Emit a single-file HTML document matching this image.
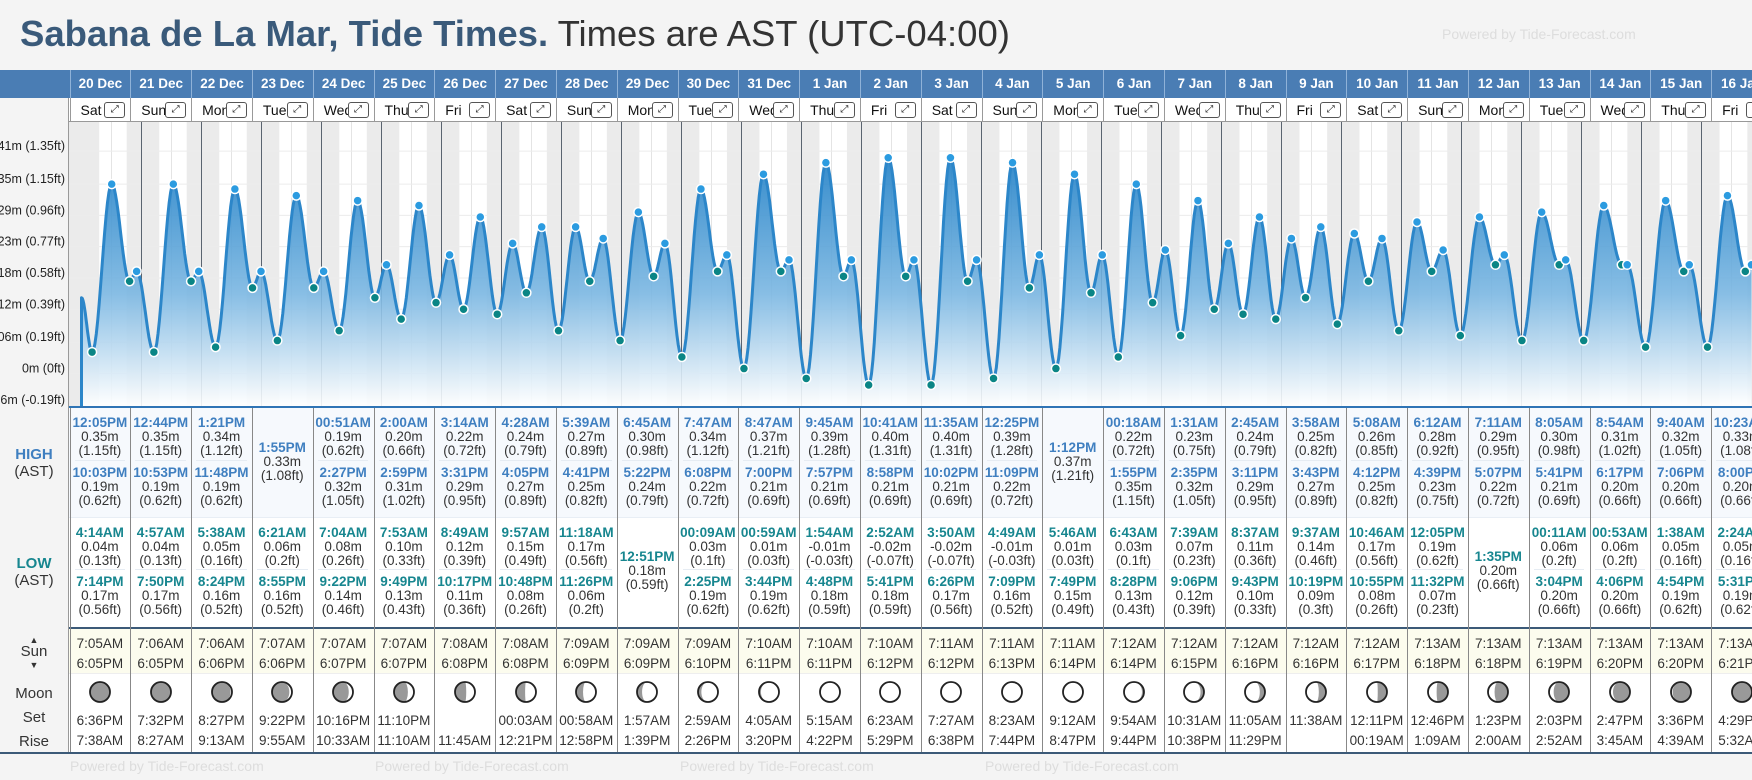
<!DOCTYPE html>
<html><head><meta charset="utf-8">
<style>
*{box-sizing:border-box;margin:0;padding:0}
body{width:1752px;height:780px;overflow:hidden;background:#f4f4f4;font-family:"Liberation Sans",sans-serif;position:relative}
.a{position:absolute}
.c{position:absolute;text-align:center;white-space:nowrap;font-size:13.5px;color:#333;line-height:14px}
.ht{color:#3f7fc0;font-weight:bold}
.lt{color:#17868f;font-weight:bold}
</style></head><body>
<div class="a" style="left:20px;top:12px;font-size:36.5px;line-height:44px;white-space:nowrap;color:#333"><b style="color:#3a5a7a">Sabana de La Mar, Tide Times.</b> Times are AST (UTC-04:00)</div>
<div class="a" style="left:1442px;top:26px;font-size:14px;color:#ddd;white-space:nowrap">Powered by Tide-Forecast.com</div>
<div id="root"></div>
<script>
const dates=["20 Dec","21 Dec","22 Dec","23 Dec","24 Dec","25 Dec","26 Dec","27 Dec","28 Dec","29 Dec","30 Dec","31 Dec","1 Jan","2 Jan","3 Jan","4 Jan","5 Jan","6 Jan","7 Jan","8 Jan","9 Jan","10 Jan","11 Jan","12 Jan","13 Jan","14 Jan","15 Jan","16 Jan"];
const days=["Sat","Sun","Mon","Tue","Wed","Thu","Fri","Sat","Sun","Mon","Tue","Wed","Thu","Fri","Sat","Sun","Mon","Tue","Wed","Thu","Fri","Sat","Sun","Mon","Tue","Wed","Thu","Fri"];
const highs=[
[["12:05PM",0.35,1.15],["10:03PM",0.19,0.62]],
[["12:44PM",0.35,1.15],["10:53PM",0.19,0.62]],
[["1:21PM",0.34,1.12],["11:48PM",0.19,0.62]],
[["1:55PM",0.33,1.08]],
[["00:51AM",0.19,0.62],["2:27PM",0.32,1.05]],
[["2:00AM",0.20,0.66],["2:59PM",0.31,1.02]],
[["3:14AM",0.22,0.72],["3:31PM",0.29,0.95]],
[["4:28AM",0.24,0.79],["4:05PM",0.27,0.89]],
[["5:39AM",0.27,0.89],["4:41PM",0.25,0.82]],
[["6:45AM",0.30,0.98],["5:22PM",0.24,0.79]],
[["7:47AM",0.34,1.12],["6:08PM",0.22,0.72]],
[["8:47AM",0.37,1.21],["7:00PM",0.21,0.69]],
[["9:45AM",0.39,1.28],["7:57PM",0.21,0.69]],
[["10:41AM",0.40,1.31],["8:58PM",0.21,0.69]],
[["11:35AM",0.40,1.31],["10:02PM",0.21,0.69]],
[["12:25PM",0.39,1.28],["11:09PM",0.22,0.72]],
[["1:12PM",0.37,1.21]],
[["00:18AM",0.22,0.72],["1:55PM",0.35,1.15]],
[["1:31AM",0.23,0.75],["2:35PM",0.32,1.05]],
[["2:45AM",0.24,0.79],["3:11PM",0.29,0.95]],
[["3:58AM",0.25,0.82],["3:43PM",0.27,0.89]],
[["5:08AM",0.26,0.85],["4:12PM",0.25,0.82]],
[["6:12AM",0.28,0.92],["4:39PM",0.23,0.75]],
[["7:11AM",0.29,0.95],["5:07PM",0.22,0.72]],
[["8:05AM",0.30,0.98],["5:41PM",0.21,0.69]],
[["8:54AM",0.31,1.02],["6:17PM",0.20,0.66]],
[["9:40AM",0.32,1.05],["7:06PM",0.20,0.66]],
[["10:23AM",0.33,1.08],["8:00PM",0.20,0.66]]];
const lows=[
[["4:14AM",0.04,0.13],["7:14PM",0.17,0.56]],
[["4:57AM",0.04,0.13],["7:50PM",0.17,0.56]],
[["5:38AM",0.05,0.16],["8:24PM",0.16,0.52]],
[["6:21AM",0.06,0.2],["8:55PM",0.16,0.52]],
[["7:04AM",0.08,0.26],["9:22PM",0.14,0.46]],
[["7:53AM",0.10,0.33],["9:49PM",0.13,0.43]],
[["8:49AM",0.12,0.39],["10:17PM",0.11,0.36]],
[["9:57AM",0.15,0.49],["10:48PM",0.08,0.26]],
[["11:18AM",0.17,0.56],["11:26PM",0.06,0.2]],
[["12:51PM",0.18,0.59]],
[["00:09AM",0.03,0.1],["2:25PM",0.19,0.62]],
[["00:59AM",0.01,0.03],["3:44PM",0.19,0.62]],
[["1:54AM",-0.01,-0.03],["4:48PM",0.18,0.59]],
[["2:52AM",-0.02,-0.07],["5:41PM",0.18,0.59]],
[["3:50AM",-0.02,-0.07],["6:26PM",0.17,0.56]],
[["4:49AM",-0.01,-0.03],["7:09PM",0.16,0.52]],
[["5:46AM",0.01,0.03],["7:49PM",0.15,0.49]],
[["6:43AM",0.03,0.1],["8:28PM",0.13,0.43]],
[["7:39AM",0.07,0.23],["9:06PM",0.12,0.39]],
[["8:37AM",0.11,0.36],["9:43PM",0.10,0.33]],
[["9:37AM",0.14,0.46],["10:19PM",0.09,0.3]],
[["10:46AM",0.17,0.56],["10:55PM",0.08,0.26]],
[["12:05PM",0.19,0.62],["11:32PM",0.07,0.23]],
[["1:35PM",0.20,0.66]],
[["00:11AM",0.06,0.2],["3:04PM",0.20,0.66]],
[["00:53AM",0.06,0.2],["4:06PM",0.20,0.66]],
[["1:38AM",0.05,0.16],["4:54PM",0.19,0.62]],
[["2:24AM",0.05,0.16],["5:31PM",0.19,0.62]]];
const sunrise=["7:05AM","7:06AM","7:06AM","7:07AM","7:07AM","7:07AM","7:08AM","7:08AM","7:09AM","7:09AM","7:09AM","7:10AM","7:10AM","7:10AM","7:11AM","7:11AM","7:11AM","7:12AM","7:12AM","7:12AM","7:12AM","7:12AM","7:13AM","7:13AM","7:13AM","7:13AM","7:13AM","7:13AM"];
const sunset=["6:05PM","6:05PM","6:06PM","6:06PM","6:07PM","6:07PM","6:08PM","6:08PM","6:09PM","6:09PM","6:10PM","6:11PM","6:11PM","6:12PM","6:12PM","6:13PM","6:14PM","6:14PM","6:15PM","6:16PM","6:16PM","6:17PM","6:18PM","6:18PM","6:19PM","6:20PM","6:20PM","6:21PM"];
const moonSet=["6:36PM","7:32PM","8:27PM","9:22PM","10:16PM","11:10PM","","00:03AM","00:58AM","1:57AM","2:59AM","4:05AM","5:15AM","6:23AM","7:27AM","8:23AM","9:12AM","9:54AM","10:31AM","11:05AM","11:38AM","12:11PM","12:46PM","1:23PM","2:03PM","2:47PM","3:36PM","4:29PM"];
const moonRise=["7:38AM","8:27AM","9:13AM","9:55AM","10:33AM","11:10AM","11:45AM","12:21PM","12:58PM","1:39PM","2:26PM","3:20PM","4:22PM","5:29PM","6:38PM","7:44PM","8:47PM","9:44PM","10:38PM","11:29PM","","00:19AM","1:09AM","2:00AM","2:52AM","3:45AM","4:39AM","5:32AM"];
const moonAge=[0.5,1.5,2.5,3.5,4.5,5.5,6.8,7.8,8.8,9.8,10.8,11.8,12.8,13.8,14.8,15.8,16.8,17.8,18.8,19.8,20.8,21.8,22.8,23.8,24.8,25.8,26.8,27.8];
const startFt=0.46;
const yTicksM=["0.47m","0.41m","0.35m","0.29m","0.23m","0.18m","0.12m","0.06m","0m","-0.06m"];
const yTicksFt=[1.54,1.35,1.15,0.96,0.77,0.58,0.39,0.19,0,-0.19];

const root=document.getElementById('root');
const COL0=69.5,COLW=60.8,CX0=81.5,DAYW=60,CT=122,CB=406;
const xT=t=>CX0+t*DAYW;
const yF=f=>373.5-164.7*f;
function hrs(s){let m=s.match(/(\d+):(\d+)(AM|PM)/);let h=+m[1]%12;if(m[3]=='PM')h+=12;return h+(+m[2])/60;}
function div(cls,style,html,name,inter){const d=document.createElement('div');d.className=cls;d.style.cssText=style;d.innerHTML=html;


root.appendChild(d);return d;}

div('a','left:0;top:70px;width:1752px;height:28px;background:#4a7db4','', 'date-header-bar',false);
div('a','left:0;top:98px;width:1752px;height:24px;background:#fff;border-bottom:1px solid #999','', 'day-header-bar',false);
div('a','left:0;top:98px;width:69px;height:24px;background:#f4f4f4','', 'day-header-spacer',false);
div('a','left:69px;top:408px;width:1683px;height:109px;background:#f6f9fd','', 'high-row-bg',false);
div('a','left:69px;top:517px;width:1683px;height:110px;background:#fff;border-top:1px solid #e8eef5','', 'low-row-bg',false);
div('a','left:0;top:627px;width:1752px;height:46px;background:#fcfcee;border-top:2px solid #3c5a78','', 'sun-row-bg',false);
div('a','left:69px;top:673px;width:1683px;height:79px;background:#fff;border-top:1px solid #eee','', 'moon-row-bg',false);
div('a','left:0;top:752px;width:1752px;height:2px;background:#3c5a78','', 'table-bottom-border',false);
div('a','left:69px;top:406px;width:1683px;height:2px;background:#2f74b5','', 'chart-bottom-border',false);
div('a','left:68px;top:98px;width:1px;height:654px;background:#999','', 'left-divider',false);

for(let i=0;i<dates.length;i++){
 const x=COL0+i*COLW;
 div('c',`left:${x}px;width:${COLW}px;color:#fff;font-weight:bold;font-size:13.5px;border-left:1px solid #8fb2d8;height:28px;top:70px;line-height:28px`,dates[i],'date-label',false);
 div('c',`left:${x}px;top:98px;width:${COLW}px;height:24px;line-height:24px;border-left:1px solid #999;text-align:left;padding-left:${days[i].length>3?6:10}px;font-size:14px;color:#111`,days[i],'day-label',false);
 div('a',`left:${x+COLW-26}px;top:102px;width:21px;height:16px;border:1px solid #555;border-radius:3px;font-size:10px;line-height:14px;text-align:center;color:#222;background:#fff`,'⤢','expand-day-button',true);
 div('a',`left:${x}px;top:408px;width:1px;height:344px;background:#888`,'','column-divider',false);
 const ent=(arr,cls,tops,kind)=>{arr.forEach((e,k)=>{const t=arr.length==1?tops[2]:tops[k];
   div('c',`left:${x}px;top:${t}px;width:${COLW}px`,`<span class="${cls}">${e[0]}</span><br>${e[1].toFixed(2)}m<br>(${e[2]}ft)`,kind,false);});
   if(arr.length==2) div('a',`left:${x+5}px;top:${tops[1]-6}px;width:${COLW-10}px;height:1px;background:#e6ecf3`,'','sub-row-divider',false);};
 ent(highs[i],'ht',[416,466,441],'high-tide-entry');
 ent(lows[i],'lt',[526,575,550],'low-tide-entry');
 div('c',`left:${x}px;top:634px;width:${COLW}px;line-height:20px;font-size:13.5px`,`${sunrise[i]}<br>${sunset[i]}`,'sunrise-sunset',false);
 div('c',`left:${x}px;top:711px;width:${COLW}px;line-height:20px;font-size:13.5px`,`${moonSet[i]||'&nbsp;'}<br>${moonRise[i]||'&nbsp;'}`,'moonset-moonrise',false);
 const ph=moonAge[i]/29.53, cx=x+COLW/2, r=10;
 let k=Math.cos(ph*2*Math.PI);
 const rx=Math.abs(k)*r;
 let lit;
 if(ph<0.5){
   const sweep=k>0?0:1;
   lit=`M0,${-r} A${r},${r} 0 0 1 0,${r} A${rx},${r} 0 0 ${sweep} 0,${-r}Z`;
 } else {
   const sweep=k>0?1:0;
   lit=`M0,${-r} A${r},${r} 0 0 0 0,${r} A${rx},${r} 0 0 ${sweep} 0,${-r}Z`;
 }
 div('a',`left:${cx-13}px;top:679px;width:26px;height:26px`,`<svg width="26" height="26" viewBox="-13 -13 26 26"><circle r="${r}" fill="#999"/><path d="${lit}" fill="#fff"/><circle r="${r}" fill="none" stroke="#222" stroke-width="1.8"/></svg>`,'moon-phase-icon',false);
}
div('a','left:0;top:408px;width:68px;height:344px;background:#f4f4f4','','row-label-bg',false);
div('c','left:0;top:446px;width:68px;font-size:15px;line-height:17px',`<b style="color:#3f7fc0">HIGH</b><br>(AST)`,'high-row-label',false);
div('c','left:0;top:555px;width:68px;font-size:15px;line-height:17px',`<b style="color:#17868f">LOW</b><br>(AST)`,'low-row-label',false);
div('c','left:0;top:633px;width:68px;font-size:15px;line-height:12px',`<span style="font-size:9px">▲</span><br>Sun<br><span style="font-size:9px">▼</span>`,'sun-row-label',false);
div('c','left:0;top:684px;width:68px;font-size:15px;line-height:20px',`Moon<br><span style="line-height:28px">Set</span><br>Rise`,'moon-row-label',false);
for(let j=0;j<4;j++) div('a',`left:${70+j*305}px;top:758px;font-size:14px;color:#ddd;white-space:nowrap`,'Powered by Tide-Forecast.com','powered-by-footer',false);

const NS='http://www.w3.org/2000/svg';
const svg=document.createElementNS(NS,'svg');
svg.setAttribute('width','1752');svg.setAttribute('height','290');
svg.setAttribute('style','position:absolute;left:0;top:122px');


root.appendChild(svg);
function el(tag,attrs,name){const e=document.createElementNS(NS,tag);for(const k in attrs)e.setAttribute(k,attrs[k]);


svg.appendChild(e);return e;}
const oy=CT;
svg.innerHTML='<defs><linearGradient id="g" x1="0" y1="0" x2="0" y2="1"><stop offset="0" stop-color="#1f7fc6"/><stop offset="0.55" stop-color="#7bb7e2"/><stop offset="1" stop-color="#fff"/></linearGradient><clipPath id="cp"><rect x="69" y="0" width="1700" height="284"/></clipPath></defs>';
el('rect',{x:0,y:0,width:68,height:284,fill:'#f4f4f4'},'y-axis-bg');
el('rect',{x:69,y:0,width:1683,height:284,fill:'#fff'},'chart-bg');
const g=el('g',{'clip-path':'url(#cp)'},'plot-area');
function gel(tag,attrs,name){const e=el(tag,attrs,name);g.appendChild(e);return e;}
gel('rect',{x:69,y:0,width:xT(hrs(sunrise[0])/24)-69,height:284,fill:'#ebebeb'},'night-band');
for(let i=0;i<dates.length;i++){
 const s=xT(i+hrs(sunset[i])/24), e=xT(i+1+hrs(sunrise[Math.min(i+1,dates.length-1)])/24);
 gel('rect',{x:s,y:0,width:e-s,height:284,fill:'#ebebeb'},'night-band');
 gel('line',{x1:xT(i+0.5),x2:xT(i+0.5),y1:0,y2:284,stroke:'#e4e4e4','stroke-width':1},'noon-gridline');
}
yTicksFt.forEach(f=>gel('line',{x1:69,x2:1752,y1:yF(f)-oy,y2:yF(f)-oy,stroke:'#ececec','stroke-width':1},'y-gridline'));
for(let i=1;i<=dates.length;i++) gel('line',{x1:xT(i),x2:xT(i),y1:0,y2:284,stroke:'#5a6470','stroke-width':1},'midnight-line');
let ex=[];
for(let i=0;i<dates.length;i++){highs[i].forEach(e=>ex.push({t:i+hrs(e[0])/24,f:e[2],h:1}));lows[i].forEach(e=>ex.push({t:i+hrs(e[0])/24,f:e[2],h:0}));}
ex.sort((a,b)=>a.t-b.t);
const pts=[{t:0,f:startFt}].concat(ex);
let d=`M${xT(0)},${CB-oy} L${xT(0)},${yF(startFt)-oy}`;
let line=d;
for(let k=0;k<pts.length-1;k++){const a=pts[k],b=pts[k+1];
 for(let s=1;s<=14;s++){const u=s/14;const tt=a.t+(b.t-a.t)*u;const ff=a.f+(b.f-a.f)*(1-Math.cos(Math.PI*u))/2;
  const seg=` L${xT(tt).toFixed(1)},${(yF(ff)-oy).toFixed(1)}`;d+=seg;line+=seg;}}
d+=` L${xT(pts[pts.length-1].t)},${CB-oy} Z`;
gel('path',{d:d,fill:'url(#g)',opacity:0.9},'tide-area');
gel('path',{d:line,fill:'none',stroke:'#2c86c9','stroke-width':3,'stroke-linejoin':'round'},'tide-line');
ex.forEach(e=>gel('circle',{cx:xT(e.t),cy:yF(e.f)-oy,r:4.5,fill:e.h?'#2b9be0':'#0a8585',stroke:'#fff','stroke-width':1.5},e.h?'high-tide-point':'low-tide-point'));
yTicksFt.forEach((f,i)=>{const t=el('text',{x:65,y:yF(f)-oy-1,'text-anchor':'end','font-size':12.5,fill:'#222','font-family':'Liberation Sans, sans-serif'},'y-tick-label');t.textContent=`${yTicksM[i]} (${f}ft)`;});
el('line',{x1:68.5,x2:68.5,y1:0,y2:284,stroke:'#999'},'y-axis-line');
</script>
</body></html>
